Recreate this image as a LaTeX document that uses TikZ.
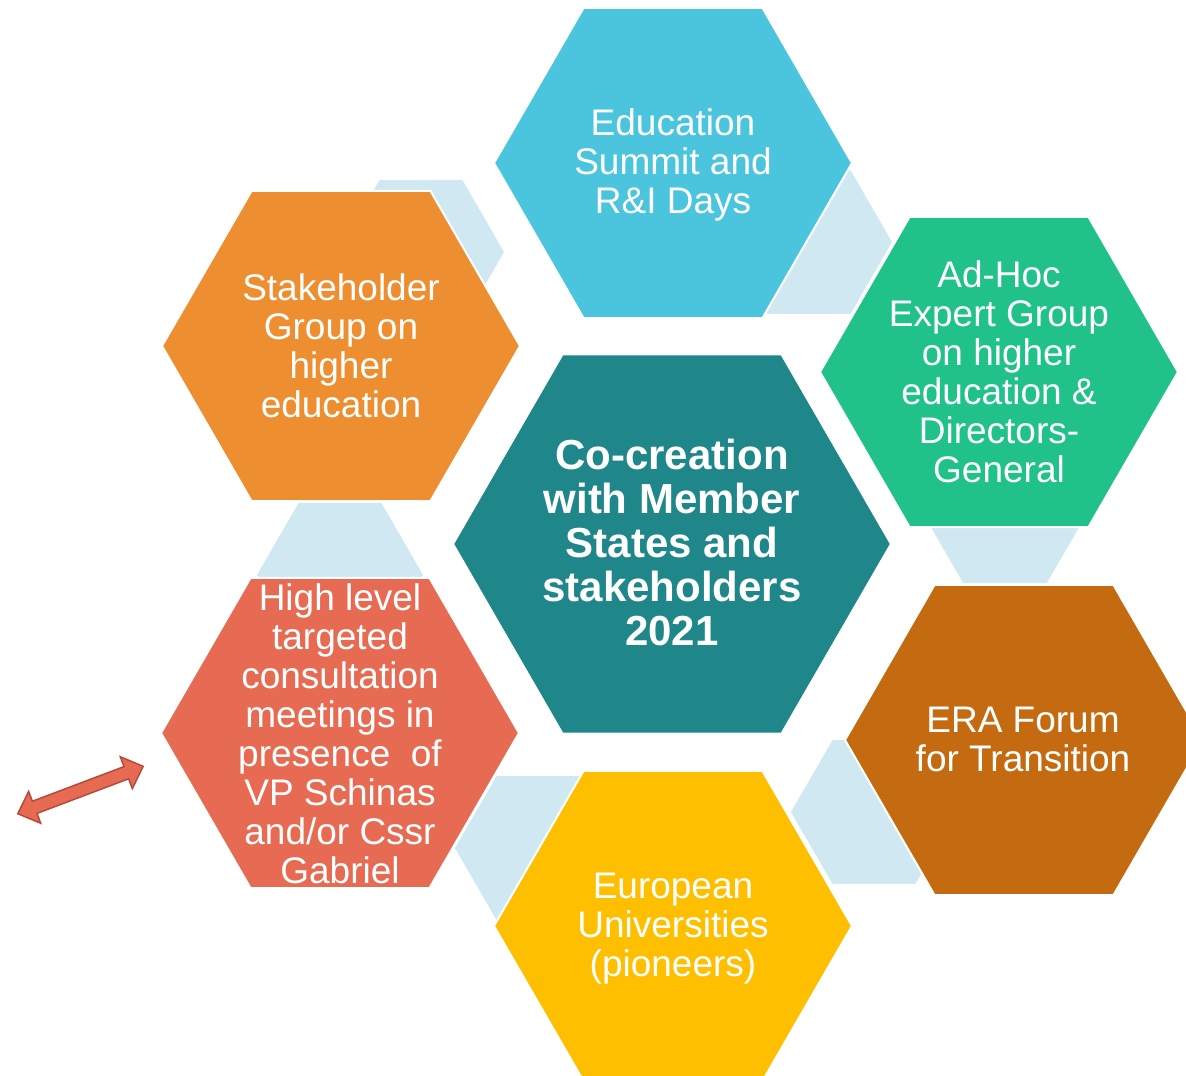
\documentclass[tikz,border=0pt]{standalone}
\usepackage{fontspec}
\setmainfont{Liberation Sans}
\definecolor{eduBlue}{HTML}{4BC5DE}
\definecolor{stakeOrange}{HTML}{ED8E30}
\definecolor{expertGreen}{HTML}{21C18A}
\definecolor{coTeal}{HTML}{1F868A}
\definecolor{hlRed}{HTML}{E76B53}
\definecolor{hlRedDark}{HTML}{B54A36}
\definecolor{eraBrown}{HTML}{C46B12}
\definecolor{euYellow}{HTML}{FDBF00}
\definecolor{linkBlue}{HTML}{D0E8F2}
% hexagon with a flat top: options, centre, radius
\newcommand{\hexagon}[3]{\path[#1, shift={(#2)}] (0:#3) -- (60:#3) -- (120:#3) -- (180:#3) -- (240:#3) -- (300:#3) -- cycle;}
\begin{document}
\begin{tikzpicture}[x=1pt, y=-1pt,
    linkhex/.style={fill=linkBlue},
    bighex/.style={draw=white, line width=2pt},
    hextext/.style={text=white, align=center, font=\fontsize{37}{39}\selectfont},
    centretext/.style={text=white, align=center, font=\fontsize{42}{44}\selectfont\bfseries}]
    \useasboundingbox (0,0) rectangle (1186,1076);
    \clip (0,0) rectangle (1186,1076);

    % Light blue links behind the ring
    \hexagon{linkhex}{421,252}{83}
    \hexagon{linkhex}{809,242}{83}
    \hexagon{linkhex}{1005,510}{84}
    \hexagon{linkhex}{874,812}{83}
    \hexagon{linkhex}{538,848}{83}
    \hexagon{linkhex}{340,575}{83}

    % Ring of hexagons
    \hexagon{bighex, fill=eduBlue}{673,163}{179}
    \hexagon{bighex, fill=stakeOrange}{341,346}{179}
    \hexagon{bighex, fill=expertGreen}{999,372}{179}
    \hexagon{bighex, fill=hlRed}{340,733}{179}
    \hexagon{bighex, fill=eraBrown}{1024,740}{179}
    \hexagon{bighex, fill=euYellow}{673,926}{179}
    % Centre hexagon
    \hexagon{bighex, fill=coTeal}{672,544}{219}

    % Texts
    \node[hextext] (summit) at (673,165) {Education\\Summit and\\R\&I Days};
    \node[hextext] (stake) at (341,346) {Stakeholder\\Group on\\higher\\education};
    \node[hextext] (expert) at (999,372) {Ad-Hoc\\Expert Group\\on higher\\education \&\\Directors-\\General};
    \node[centretext] (cocreation) at (672,542) {Co-creation\\with Member\\States and\\stakeholders\\2021};
    \node[hextext] (highlevel) at (340,734) {High level\\targeted\\consultation\\meetings in\\presence\ \ of\\VP Schinas\\and/or Cssr\\Gabriel};
    \node[hextext] (era) at (1023,739) {ERA Forum\\for Transition};
    \node[hextext] (euuni) at (673,929) {European\\Universities\\(pioneers)};

    % Double arrow on the left
    \begin{scope}[shift={(80.5,790)}, rotate=20.7]
        \filldraw[fill=hlRed, draw=hlRedDark, line width=1.5pt, line join=miter]
            (-67,0) -- (-49,17) -- (-49,6.5) -- (49,6.5) -- (49,17) -- (67,0)
            -- (49,-17) -- (49,-6.5) -- (-49,-6.5) -- (-49,-17) -- cycle;
    \end{scope}
\end{tikzpicture}
\end{document}
